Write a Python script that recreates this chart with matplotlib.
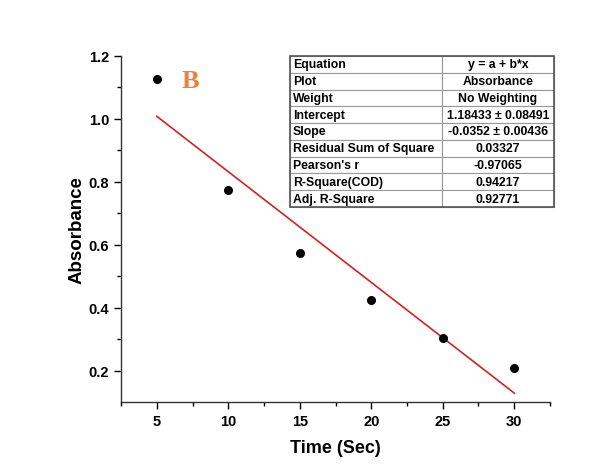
import matplotlib
matplotlib.use("Agg")
import matplotlib.pyplot as plt
import numpy as np

time_sec = [5, 10, 15, 20, 25, 30]
absorbance = [1.127, 0.773, 0.575, 0.423, 0.302, 0.207]
intercept = 1.18433
slope = -0.0352

table_labels = ["Equation", "Plot", "Weight", "Intercept", "Slope",
                "Residual Sum of Square", "Pearson's r", "R-Square(COD)", "Adj. R-Square"]
table_values = ["y = a + b*x", "Absorbance", "No Weighting", "1.18433 \u00b1 0.08491",
                "-0.0352 \u00b1 0.00436", "0.03327", "-0.97065", "0.94217", "0.92771"]

plt.rcParams['font.family'] = ['Liberation Sans', 'DejaVu Sans']

fig = plt.figure(figsize=(5.93, 4.77), dpi=100)
ax = fig.add_axes([121/593, 1-403/477, 429/593, 346/477])

ax.scatter(time_sec, absorbance, s=30, color='black', zorder=3)
xf = np.array([time_sec[0], time_sec[-1]])
ax.plot(xf, intercept + slope*xf, color='#d42020', lw=1.2, zorder=2)

ax.set_xlim(2.5, 32.5)
ax.set_ylim(0.1, 1.2)
ax.set_xticks([5, 10, 15, 20, 25, 30])
ax.set_xticks([2.5, 7.5, 12.5, 17.5, 22.5, 27.5, 32.5], minor=True)
ax.set_yticks([0.2, 0.4, 0.6, 0.8, 1.0, 1.2])
ax.set_yticks([0.3, 0.5, 0.7, 0.9, 1.1], minor=True)
ax.set_yticklabels(['0.2', '0.4', '0.6', '0.8', '1.0', '1.2'])
for s in ['top', 'right']:
    ax.spines[s].set_visible(False)
for s in ['left', 'bottom']:
    ax.spines[s].set_color('#333333')
    ax.spines[s].set_linewidth(1.0)
ax.tick_params(which='major', length=5, width=1, direction='out', labelsize=10.5)
ax.tick_params(which='minor', length=3, width=1, direction='out')
for lab in ax.get_xticklabels() + ax.get_yticklabels():
    lab.set_fontweight('bold')

ax.set_xlabel('Time (Sec)', fontsize=13, fontweight='bold', labelpad=8)
ax.set_ylabel('Absorbance', fontsize=13.5, fontweight='bold', labelpad=2)

ax.text(0.142, 0.93, 'B', transform=ax.transAxes, fontsize=19, fontweight='bold',
        color='#f0803a', family=['Liberation Serif', 'DejaVu Serif'], ha='left', va='center')

cell_text = [[l, v] for l, v in zip(table_labels, table_values)]
tb = ax.table(cellText=cell_text, cellLoc='left',
              bbox=[(290-121)/429, (403-208)/346, 264/429, 151/346],
              colWidths=[152/264, 112/264])
tb.auto_set_font_size(False)
for (r, c), cell in tb.get_celld().items():
    cell.set_edgecolor('#9a9a9a')
    cell.set_linewidth(0.8)
    t = cell.get_text()
    t.set_fontsize(8.8)
    t.set_fontweight('bold')
    if c == 1:
        t.set_ha('center')
        cell._loc = 'center'
    else:
        cell.PAD = 0.02
fig.patches.append(plt.Rectangle((290/593, 1-208/477), 264/593, 151/477,
                                 transform=fig.transFigure, fill=False,
                                 edgecolor='#555555', lw=1.2, zorder=10))

fig.savefig('out.png', dpi=100, facecolor='white')
